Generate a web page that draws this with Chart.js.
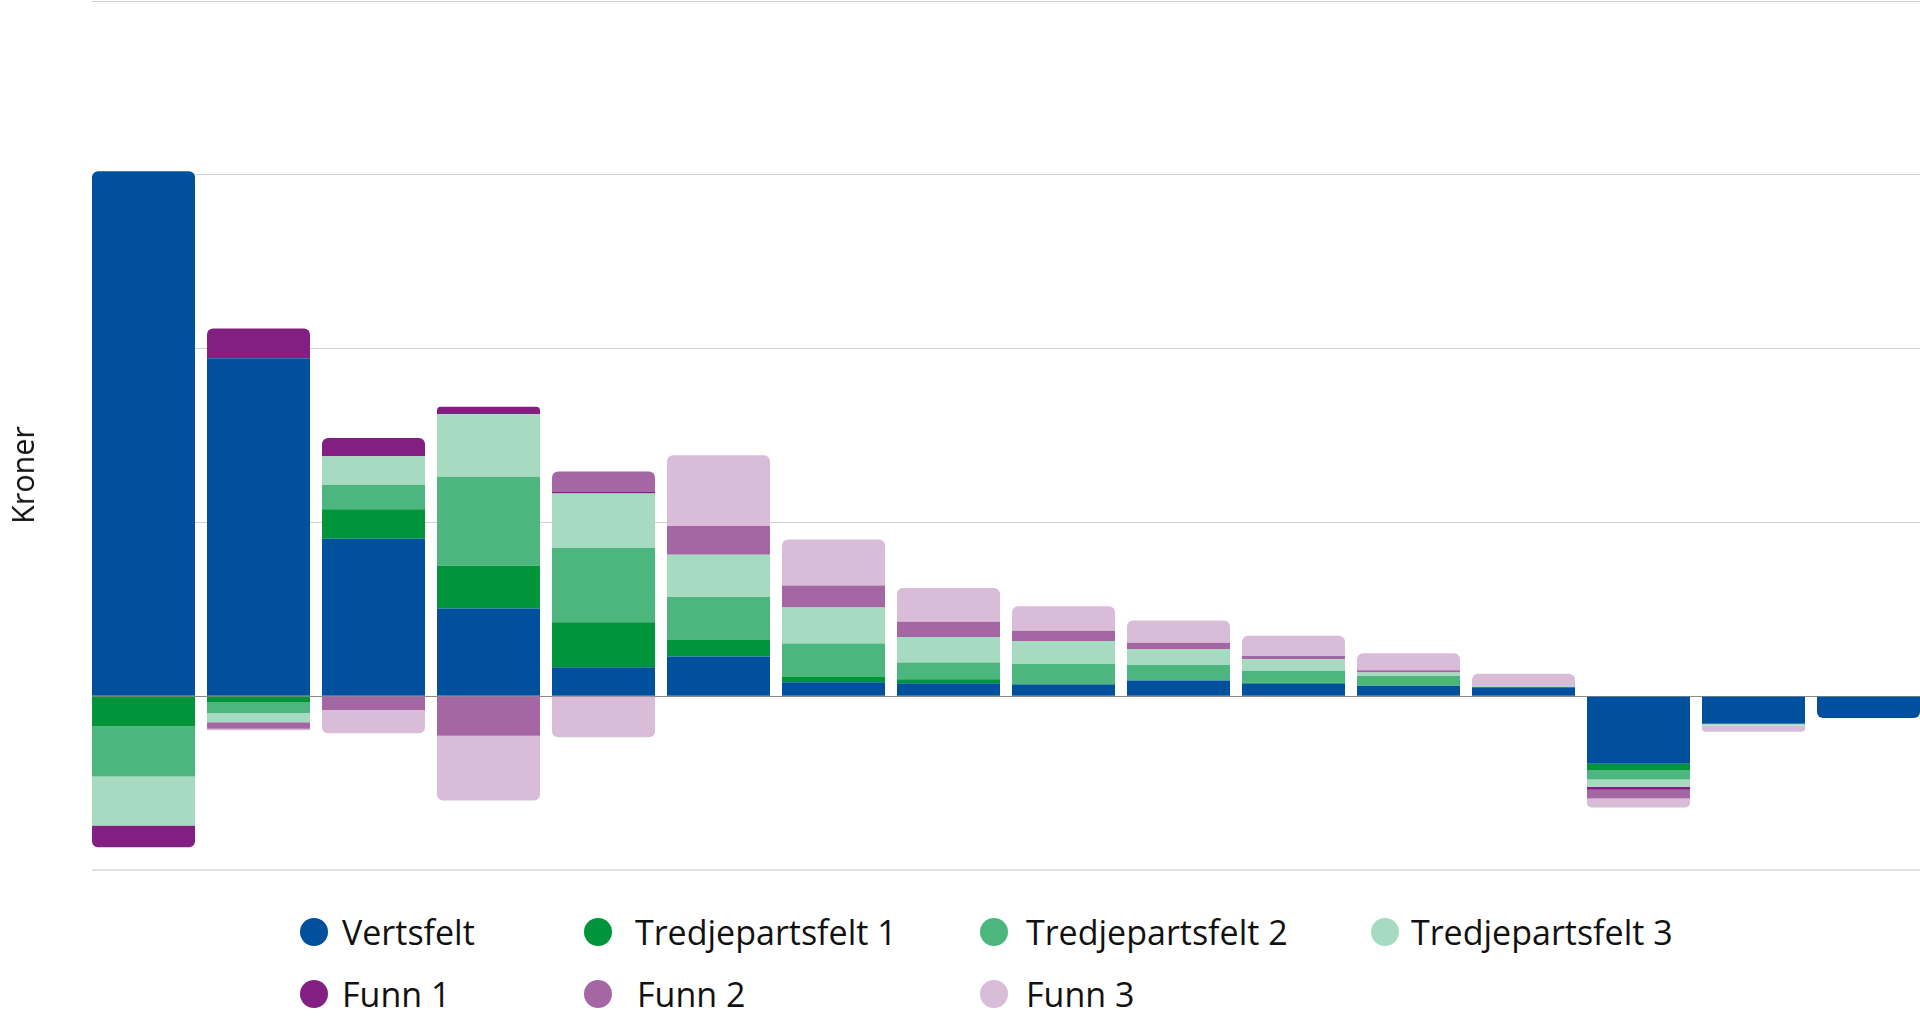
<!DOCTYPE html>
<html><head><meta charset="utf-8">
<script src="https://cdn.jsdelivr.net/npm/chart.js@4"></script>
<style>
html,body{margin:0;padding:0;background:#fff;overflow:hidden;width:1920px;height:1017px;}
#wrap{position:absolute;left:0;top:0;width:1926px;height:872px;}
#ytitle{position:absolute;left:22px;top:475px;transform:translate(-50%,-50%) rotate(-90deg);font-family:"Open Sans";font-size:30.5px;color:#111;white-space:nowrap;}
.dot{position:absolute;width:28px;height:28px;border-radius:50%;transform:translateY(-50%);}
.lbl{position:absolute;font-family:"Open Sans";font-size:34px;line-height:40px;color:#111;white-space:nowrap;transform:translateY(-50%);}
</style></head>
<body>
<div id="wrap"><canvas id="c"></canvas></div>
<div id="ytitle">Kroner</div>
<div id="legend"></div>
<script>
const categories = ['1','2','3','4','5','6','7','8','9','10','11','12','13','14','15','16'];
const seriesNames = ['Vertsfelt','Tredjepartsfelt 1','Tredjepartsfelt 2','Tredjepartsfelt 3','Funn 1','Funn 2','Funn 3'];
const seriesColors = ['#00509E','#00953B','#4DB67E','#A6DBC1','#831F82','#A567A4','#D8BCD8'];
const yTicks = [-1, 0, 1, 2, 3, 4];

const vertsfelt        = [3.02, 1.945, 0.906, 0.504, 0.167, 0.228, 0.080, 0.075, 0.067, 0.090, 0.071, 0.058, 0.052, -0.389, -0.159, -0.125];
const tredjepartsfelt1 = [-0.174, -0.033, 0.169, 0.247, 0.259, 0.098, 0.033, 0.023, 0.006, 0, 0.006, 0.004, 0, -0.038, 0, 0];
const tredjepartsfelt2 = [-0.288, -0.063, 0.142, 0.511, 0.427, 0.245, 0.190, 0.096, 0.113, 0.090, 0.070, 0.054, 0, -0.052, 0, 0];
const tredjepartsfelt3 = [-0.282, -0.054, 0.163, 0.360, 0.314, 0.243, 0.207, 0.146, 0.132, 0.092, 0.065, 0.021, 0.006, -0.042, -0.010, 0];
const funn1            = [-0.125, 0.170, 0.106, 0.044, 0.011, 0, 0, 0, 0, 0, 0, 0, 0, -0.017, 0, 0];
const funn2            = [0, -0.038, -0.079, -0.228, 0.115, 0.165, 0.127, 0.088, 0.058, 0.035, 0.019, 0.012, 0, -0.050, 0, 0];
const funn3            = [0, -0.008, -0.134, -0.372, -0.236, 0.408, 0.265, 0.194, 0.142, 0.128, 0.117, 0.098, 0.071, -0.052, -0.035, 0];

const seriesValues = [vertsfelt, tredjepartsfelt1, tredjepartsfelt2, tredjepartsfelt3, funn1, funn2, funn3];

const datasets = seriesNames.map((n, i) => ({
  label: n,
  data: seriesValues[i],
  backgroundColor: seriesColors[i],
  borderWidth: 0,
  borderRadius: 6,
  barPercentage: 1,
  categoryPercentage: 103/115
}));

// gridlines in the original begin at the left edge of the first bar
const trimGrid = {
  id: 'trimGrid',
  beforeDatasetsDraw(chart) {
    const ctx = chart.ctx, a = chart.chartArea;
    ctx.save();
    ctx.fillStyle = '#ffffff';
    ctx.fillRect(0, 0, a.left + 6, chart.height);
    ctx.restore();
  }
};

new Chart(document.getElementById('c'), {
  type: 'bar',
  data: { labels: categories, datasets },
  plugins: [trimGrid],
  options: {
    responsive: true, maintainAspectRatio: false, animation: false, devicePixelRatio: 1,
    layout: { padding: { top: 1, bottom: 2, left: 0, right: 0 } },
    plugins: { legend: { display: false }, tooltip: { enabled: false } },
    scales: {
      x: { stacked: true, display: false },
      y: {
        stacked: true, min: yTicks[0], max: yTicks[yTicks.length-1],
        afterBuildTicks: s => { s.ticks = yTicks.map(v => ({ value: v })); },
        ticks: { display: false },
        border: { display: false },
        grid: {
          drawTicks: false,
          color: c => c.tick.value === 0 ? '#8a8a8a' : (c.tick.value === yTicks[0] ? '#e2e2e2' : '#d2d2d2'),
          lineWidth: c => c.tick.value === yTicks[0] ? 2 : 1
        },
        afterFit: s => { s.width = 86; }
      }
    }
  }
});

// HTML legend laid out in columns as in the original
const dotPos  = [[300,932],[584,932],[980,932],[1371,932],[300,994],[584,994],[980,994]];
const textPos = [342, 635, 1026, 1411, 342, 637, 1026];
const leg = document.getElementById('legend');
seriesNames.forEach((n, i) => {
  const d = document.createElement('div');
  d.className = 'dot';
  d.style.left = dotPos[i][0] + 'px';
  d.style.top = dotPos[i][1] + 'px';
  d.style.background = seriesColors[i];
  leg.appendChild(d);
  const t = document.createElement('div');
  t.className = 'lbl';
  t.style.left = textPos[i] + 'px';
  t.style.top = dotPos[i][1] + 'px';
  t.textContent = n;
  leg.appendChild(t);
});
</script>
</body></html>
